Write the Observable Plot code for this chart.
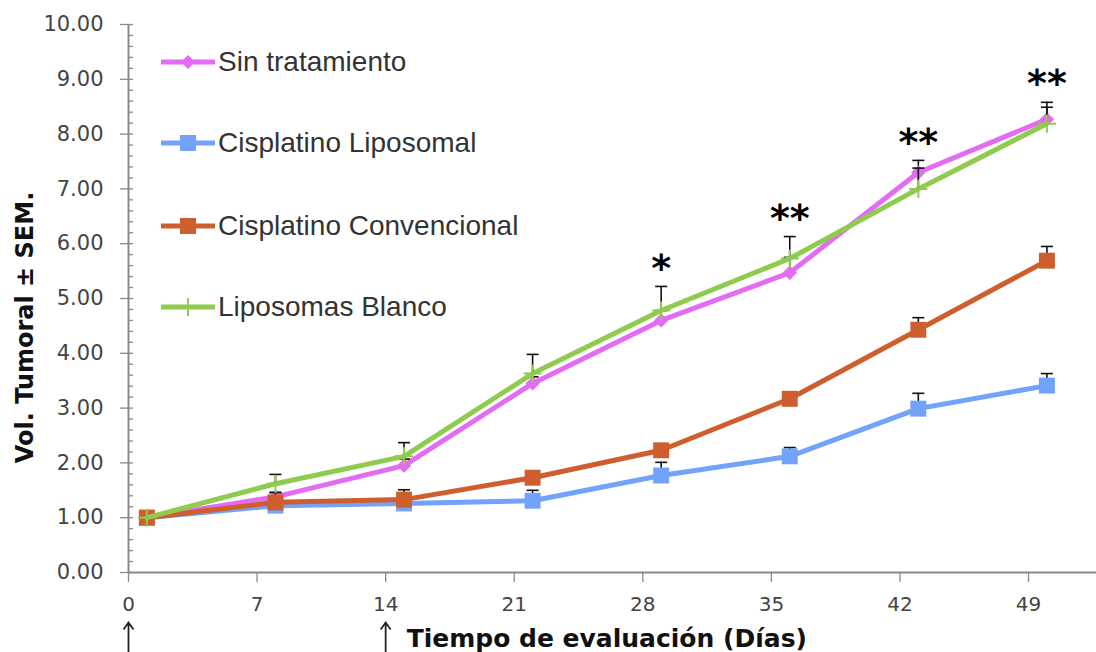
<!DOCTYPE html>
<html>
<head>
<meta charset="utf-8">
<script src="https://cdn.jsdelivr.net/npm/d3@7"></script>
<script src="https://cdn.jsdelivr.net/npm/@observablehq/plot@0.6"></script>
<style>
  body { margin: 0; background: #fff; }
  #wrap { position: relative; width: 1096px; height: 652px; }
  #legend { position: absolute; left: 0; top: 0; font-family: "Liberation Sans", Arial, sans-serif; font-size: 28px; color: #333; }
  .item { position: absolute; display: flex; align-items: center; white-space: nowrap; transform: translateY(-50%); }
  .item svg { display: block; margin-right: 3px; }
</style>
</head>
<body>
<div id="wrap"><div id="legend"></div></div>
<script>
// Evaluation days (days after start) and mean tumour volume per group
const days = [1, 8, 15, 22, 29, 36, 43, 50];
const seriesNames = ["Sin tratamiento", "Cisplatino Liposomal", "Cisplatino Convencional", "Liposomas Blanco"];

const sinTratamiento = [1.00, 1.38, 1.95, 3.45, 4.60, 5.47, 7.30, 8.27];
const sinTratamientoSem = [0, 0.08, 0.12, 0.12, 0.18, 0.28, 0.22, 0.31];

const cisplatinoLiposomal = [1.00, 1.22, 1.26, 1.31, 1.77, 2.12, 2.99, 3.41];
const cisplatinoLiposomalSem = [0, 0.05, 0.05, 0.19, 0.24, 0.16, 0.28, 0.22];

const cisplatinoConvencional = [1.00, 1.28, 1.33, 1.73, 2.23, 3.17, 4.43, 5.69];
const cisplatinoConvencionalSem = [0, 0.18, 0.18, 0.05, 0.05, 0.05, 0.22, 0.26];

const liposomasBlanco = [1.00, 1.62, 2.12, 3.63, 4.78, 5.73, 7.00, 8.19];
const liposomasBlancoSem = [0, 0.17, 0.25, 0.35, 0.44, 0.40, 0.38, 0.30];

// Significance marks per evaluation day
const significance = ["", "", "", "", "*", "**", "**", "**"];

// Treatment administration days (arrows under the axis)
const treatmentDays = [0, 14];

const xTicks = [0, 7, 14, 21, 28, 35, 42, 49];
const yTicks = [0, 1, 2, 3, 4, 5, 6, 7, 8, 9, 10];
const yMinorTicks = d3.range(0, 50.5, 1).map(k => k / 5);

const yTitle = "Vol. Tumoral ± SEM.";
const xTitle = "Tiempo de evaluación (Días)";

// ---- symbols ----
const plusSymbol = {draw(ctx) { ctx.moveTo(-9, 0); ctx.lineTo(9, 0); ctx.moveTo(0, -9); ctx.lineTo(0, 9); }};
const capSymbol = {draw(ctx) { ctx.moveTo(-6, 0); ctx.lineTo(6, 0); }};
const upArrowSymbol = {draw(ctx) {
  ctx.moveTo(0, 16); ctx.lineTo(0, -14);
  ctx.moveTo(-5, -7); ctx.lineTo(0, -14); ctx.lineTo(5, -7);
}};

const series = [
  {name: seriesNames[0], values: sinTratamiento, sem: sinTratamientoSem, color: "#E36CF3", marker: "diamond"},
  {name: seriesNames[1], values: cisplatinoLiposomal, sem: cisplatinoLiposomalSem, color: "#70A3F9", marker: "square"},
  {name: seriesNames[2], values: cisplatinoConvencional, sem: cisplatinoConvencionalSem, color: "#CF5E2E", marker: "square"},
  {name: seriesNames[3], values: liposomasBlanco, sem: liposomasBlancoSem, color: "#8FCB4F", marker: "plus"}
];

const table = series.flatMap(s => days.map((day, i) => ({
  series: s.name, day, value: s.values[i], upper: s.values[i] + s.sem[i]
})));

function markerMark(s, rows) {
  if (s.marker === "square") return Plot.dot(rows, {x: "day", y: "value", symbol: "square", r: 9, fill: s.color});
  if (s.marker === "diamond") return Plot.dot(rows, {x: "day", y: "value", symbol: "diamond2", r: 5.5, fill: s.color, stroke: s.color, strokeWidth: 1.5});
  return Plot.dot(rows, {x: "day", y: "value", symbol: plusSymbol, fill: "none", stroke: s.color, strokeWidth: 2});
}

const seriesMarks = series.flatMap(s => {
  const rows = table.filter(d => d.series === s.name);
  const bars = rows.filter(d => d.upper > d.value);
  return [
    Plot.line(rows, {x: "day", y: "value", stroke: s.color, strokeWidth: 5, strokeLinejoin: "round"}),
    Plot.ruleX(bars, {x: "day", y1: "value", y2: "upper", stroke: "#111", strokeWidth: 1.6}),
    Plot.dot(bars, {x: "day", y: "upper", symbol: capSymbol, fill: "none", stroke: "#111", strokeWidth: 1.6}),
    markerMark(s, rows)
  ];
});

const starRows = days.map((day, i) => ({
  day,
  text: significance[i],
  top: d3.max(series, s => s.values[i] + s.sem[i])
})).filter(d => d.text);

const tickFont = "DejaVu Sans, sans-serif";

const chart = Plot.plot({
  width: 1096,
  height: 652,
  marginLeft: 128,
  marginRight: 0,
  marginTop: 24,
  marginBottom: 80,
  style: {background: "#fff", overflow: "visible"},
  x: {domain: [0, 52.7]},
  y: {domain: [0, 10]},
  marks: [
    // y axis: minor (inward) ticks, major outward ticks, labels
    Plot.axisY(yMinorTicks, {tickSize: -5, text: null, stroke: "#8a8a8a", strokeWidth: 1.3, label: null}),
    Plot.axisY(yTicks, {tickSize: 8, text: null, stroke: "#8a8a8a", strokeWidth: 1.3, label: null}),
    Plot.axisY(yTicks, {tickSize: 0, tickPadding: 25, tickFormat: d3.format(".2f"), fontSize: 21, fontFamily: tickFont, fill: "#444", label: null}),
    // x axis
    Plot.axisX(xTicks, {tickSize: 10, text: null, stroke: "#8a8a8a", strokeWidth: 1.3, label: null}),
    Plot.axisX(xTicks, {tickSize: 0, tickPadding: 24, fontSize: 20, fontFamily: tickFont, fill: "#444", label: null}),
    Plot.ruleX([0], {stroke: "#8a8a8a", strokeWidth: 2}),
    Plot.ruleY([0], {stroke: "#8a8a8a", strokeWidth: 2}),
    ...seriesMarks,
    // significance stars
    Plot.text(starRows, {x: "day", y: "top", text: "text", dy: -18, fontSize: 38, fontWeight: "bold", fontFamily: "DejaVu Sans", fill: "#000"}),
    // treatment arrows and axis titles
    Plot.dot(treatmentDays, {x: d => d, frameAnchor: "bottom", dy: 64, symbol: upArrowSymbol, fill: "none", stroke: "#222", strokeWidth: 1.8}),
    Plot.text([xTitle], {x: () => treatmentDays[1], frameAnchor: "bottom", textAnchor: "start", lineAnchor: "middle", text: d => d, dx: 21, dy: 66, fontSize: 25, fontWeight: "bold", fontFamily: "DejaVu Sans", fill: "#111"}),
    Plot.text([yTitle], {frameAnchor: "left", textAnchor: "middle", lineAnchor: "middle", rotate: -90, text: d => d, dx: -103, dy: 29, fontSize: 24, fontWeight: "bold", fontFamily: "DejaVu Sans", fill: "#111"})
  ]
});

const wrap = document.getElementById("wrap");
wrap.insertBefore(chart, wrap.firstChild);

// Legend inside the plot area, top-left
const legendRowsY = [62, 143, 226, 307];
const legend = d3.select("#legend");
series.forEach((s, i) => {
  const item = legend.append("div").attr("class", "item")
    .style("left", "161px").style("top", legendRowsY[i] + "px");
  const svg = item.append("svg").attr("width", 54).attr("height", 24);
  svg.append("line").attr("x1", 0).attr("x2", 54).attr("y1", 12).attr("y2", 12)
    .attr("stroke", s.color).attr("stroke-width", 5).attr("stroke-linecap", "round");
  if (s.marker === "square") {
    svg.append("rect").attr("x", 19).attr("y", 4).attr("width", 16).attr("height", 16).attr("fill", s.color);
  } else if (s.marker === "diamond") {
    svg.append("path").attr("d", "M27,5 L34,12 L27,19 L20,12 Z").attr("fill", s.color);
  } else {
    svg.append("path").attr("d", "M18,12 H36 M27,3 V21").attr("stroke", s.color).attr("stroke-width", 2);
  }
  item.append("span").text(s.name);
});
</script>
</body>
</html>
